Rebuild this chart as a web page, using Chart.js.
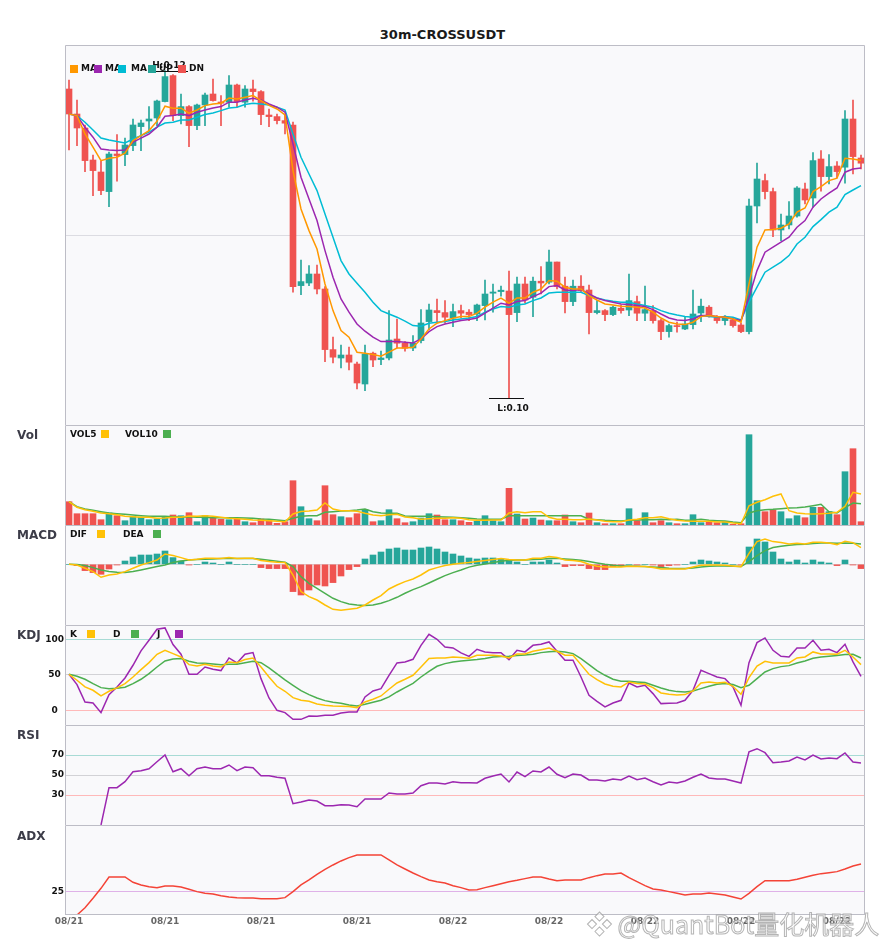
<!DOCTYPE html>
<html><head><meta charset="utf-8">
<script src="https://cdn.jsdelivr.net/npm/chart.js@4.4.1/dist/chart.umd.min.js"></script>
<style>
html,body{margin:0;padding:0;background:#fff;}
#wrap{position:relative;width:885px;height:950px;overflow:hidden;font-family:"DejaVu Sans",sans-serif;}
canvas{position:absolute;left:0;}
.t{position:absolute;white-space:nowrap;font-weight:bold;line-height:1;}
.lg{font-size:9px;color:#111;}
.pn{font-size:12px;color:#3c3c48;left:17px;}
.box{position:absolute;width:8px;height:8px;}
.wm{position:absolute;white-space:nowrap;font-family:"Noto Sans CJK SC","Noto Sans",sans-serif;font-size:25px;line-height:1;color:rgba(255,255,255,0.65);-webkit-text-stroke:1px rgba(150,150,150,0.7);}
</style></head><body><div id="wrap">
<div class="t" style="left:0;width:885px;text-align:center;top:28px;font-size:13px;color:#1a1a1a">30m-CROSSUSDT</div>
</div>
<script>
// ---------- data ----------
const dates = ['08/21','08/21','08/21','08/21','08/21','08/21','08/21','08/21','08/21','08/21',
'08/21','08/21','08/21','08/21','08/21','08/21','08/21','08/21','08/21','08/21',
'08/21','08/21','08/21','08/21','08/21','08/21','08/21','08/21','08/21','08/21',
'08/21','08/21','08/21','08/21','08/21','08/21','08/21','08/21','08/21','08/21',
'08/21','08/21','08/21','08/21','08/21','08/21','08/21','08/21','08/22','08/22',
'08/22','08/22','08/22','08/22','08/22','08/22','08/22','08/22','08/22','08/22',
'08/22','08/22','08/22','08/22','08/22','08/22','08/22','08/22','08/22','08/22',
'08/22','08/22','08/22','08/22','08/22','08/22','08/22','08/22','08/22','08/22',
'08/22','08/22','08/22','08/22','08/22','08/22','08/22','08/22','08/22','08/22',
'08/22','08/22','08/22','08/22','08/22','08/22','08/22','08/22','08/22','08/22'];
const tickEvery = 12;

const opens = [0.11945,0.11820,0.11750,0.11590,0.11530,0.11432,0.11620,0.11617,0.11662,0.11757,
0.11785,0.11800,0.11882,0.12012,0.11812,0.11857,0.11762,0.11865,0.11920,0.11880,
0.11879,0.11965,0.11879,0.11945,0.11932,0.11815,0.11807,0.11787,0.11765,0.10962,
0.10975,0.11020,0.10945,0.10642,0.10600,0.10615,0.10570,0.10470,0.10624,0.10592,
0.10600,0.10695,0.10674,0.10650,0.10687,0.10782,0.10837,0.10827,0.10800,0.10837,
0.10829,0.10820,0.10862,0.10924,0.10932,0.10935,0.10827,0.10970,0.10904,0.10984,
0.10979,0.11080,0.10959,0.10882,0.10959,0.10940,0.10827,0.10837,0.10817,0.10849,
0.10840,0.10882,0.10824,0.10837,0.10787,0.10732,0.10762,0.10745,0.10767,0.10825,
0.10854,0.10804,0.10787,0.10790,0.10765,0.10732,0.11360,0.11487,0.11432,0.11240,
0.11265,0.11310,0.11445,0.11400,0.11595,0.11507,0.11560,0.11554,0.11795,0.11600];
const highs = [0.11990,0.11890,0.11765,0.11615,0.11585,0.11630,0.11717,0.11700,0.11795,0.11790,
0.11857,0.11890,0.12037,0.12017,0.11920,0.11862,0.11870,0.11925,0.11995,0.11912,
0.12012,0.11970,0.11962,0.11990,0.11937,0.11845,0.11820,0.11815,0.11779,0.11090,
0.11062,0.11065,0.10957,0.10704,0.10665,0.10654,0.10579,0.10665,0.10629,0.10634,
0.10837,0.10795,0.10682,0.10712,0.10842,0.10870,0.10895,0.10887,0.10870,0.10865,
0.10842,0.10870,0.10990,0.10970,0.10959,0.11035,0.11004,0.11004,0.11004,0.11057,
0.11140,0.11080,0.11004,0.10990,0.11012,0.10965,0.10887,0.10842,0.10859,0.10865,
0.11020,0.10909,0.10959,0.10862,0.10795,0.10770,0.10779,0.10807,0.10940,0.10895,
0.10862,0.10812,0.10812,0.10800,0.10774,0.11395,0.11575,0.11520,0.11450,0.11320,
0.11382,0.11457,0.11475,0.11627,0.11637,0.11617,0.11582,0.11837,0.11890,0.11615];
const lows = [0.11640,0.11662,0.11532,0.11412,0.11417,0.11357,0.11484,0.11562,0.11637,0.11637,
0.11734,0.11762,0.11880,0.11787,0.11770,0.11657,0.11742,0.11762,0.11884,0.11762,
0.11854,0.11854,0.11854,0.11884,0.11767,0.11757,0.11770,0.11720,0.10929,0.10917,
0.10962,0.10920,0.10582,0.10575,0.10550,0.10540,0.10445,0.10437,0.10557,0.10567,
0.10590,0.10650,0.10634,0.10637,0.10675,0.10742,0.10779,0.10774,0.10757,0.10800,
0.10787,0.10787,0.10790,0.10829,0.10909,0.10400,0.10782,0.10874,0.10807,0.10920,
0.10970,0.10945,0.10825,0.10862,0.10929,0.10720,0.10820,0.10787,0.10812,0.10824,
0.10812,0.10787,0.10787,0.10774,0.10692,0.10704,0.10729,0.10742,0.10745,0.10782,
0.10804,0.10774,0.10765,0.10754,0.10727,0.10720,0.11275,0.11395,0.11207,0.11187,
0.11245,0.11304,0.11370,0.11354,0.11434,0.11470,0.11500,0.11474,0.11520,0.11545];
const closes = [0.11820,0.11750,0.11587,0.11537,0.11437,0.11620,0.11612,0.11665,0.11765,0.11775,
0.11795,0.11885,0.12007,0.11812,0.11857,0.11762,0.11865,0.11915,0.11887,0.11874,
0.11965,0.11882,0.11945,0.11932,0.11817,0.11807,0.11787,0.11774,0.10957,0.10982,
0.11020,0.10945,0.10642,0.10604,0.10615,0.10579,0.10475,0.10620,0.10590,0.10600,
0.10690,0.10674,0.10649,0.10674,0.10775,0.10840,0.10827,0.10804,0.10832,0.10824,
0.10817,0.10865,0.10920,0.10930,0.10939,0.10817,0.10970,0.10890,0.10984,0.10975,
0.11080,0.10957,0.10882,0.10959,0.10937,0.10827,0.10837,0.10817,0.10854,0.10837,
0.10887,0.10824,0.10842,0.10787,0.10732,0.10762,0.10757,0.10770,0.10820,0.10859,
0.10807,0.10787,0.10804,0.10762,0.10732,0.11360,0.11495,0.11432,0.11240,0.11265,
0.11310,0.11450,0.11390,0.11587,0.11507,0.11557,0.11532,0.11795,0.11607,0.11574];
const ma5 = [0.11820,0.11812,0.11720,0.11654,0.11587,0.11599,0.11604,0.11624,0.11687,0.11712,
0.11737,0.11784,0.11859,0.11849,0.11849,0.11824,0.11840,0.11862,0.11870,0.11874,
0.11900,0.11895,0.11904,0.11912,0.11887,0.11863,0.11845,0.11815,0.11537,0.11345,
0.11237,0.11145,0.10970,0.10837,0.10737,0.10704,0.10629,0.10624,0.10617,0.10609,
0.10629,0.10650,0.10650,0.10654,0.10695,0.10745,0.10774,0.10787,0.10799,0.10807,
0.10807,0.10824,0.10854,0.10879,0.10899,0.10874,0.10900,0.10900,0.10929,0.10945,
0.10987,0.10984,0.10954,0.10945,0.10945,0.10912,0.10890,0.10870,0.10865,0.10859,
0.10857,0.10854,0.10850,0.10829,0.10800,0.10779,0.10770,0.10767,0.10779,0.10807,
0.10812,0.10807,0.10804,0.10795,0.10779,0.10970,0.11154,0.11240,0.11242,0.11249,
0.11270,0.11329,0.11350,0.11432,0.11457,0.11487,0.11499,0.11599,0.11595,0.11587];
const ma10 = [0.11820,0.11812,0.11754,0.11704,0.11645,0.11640,0.11637,0.11640,0.11679,0.11699,
0.11720,0.11754,0.11809,0.11812,0.11820,0.11812,0.11829,0.11840,0.11850,0.11857,
0.11879,0.11879,0.11890,0.11899,0.11890,0.11870,0.11854,0.11829,0.11670,0.11504,
0.11395,0.11287,0.11137,0.11004,0.10895,0.10829,0.10770,0.10734,0.10704,0.10682,
0.10682,0.10682,0.10679,0.10675,0.10695,0.10732,0.10757,0.10770,0.10779,0.10787,
0.10792,0.10800,0.10824,0.10849,0.10874,0.10865,0.10882,0.10887,0.10907,0.10924,
0.10957,0.10962,0.10940,0.10937,0.10942,0.10920,0.10900,0.10887,0.10879,0.10870,
0.10867,0.10862,0.10857,0.10842,0.10820,0.10800,0.10790,0.10787,0.10795,0.10812,
0.10812,0.10807,0.10804,0.10795,0.10787,0.10904,0.11037,0.11129,0.11154,0.11179,
0.11204,0.11254,0.11287,0.11354,0.11395,0.11424,0.11450,0.11529,0.11545,0.11550];
const ma20 = [0.11820,0.11812,0.11779,0.11740,0.11700,0.11690,0.11682,0.11675,0.11695,0.11712,
0.11729,0.11754,0.11775,0.11779,0.11790,0.11790,0.11804,0.11817,0.11825,0.11837,
0.11850,0.11854,0.11867,0.11874,0.11870,0.11865,0.11854,0.11840,0.11720,0.11604,
0.11520,0.11437,0.11320,0.11204,0.11087,0.11020,0.10974,0.10929,0.10879,0.10837,
0.10820,0.10804,0.10784,0.10762,0.10759,0.10774,0.10779,0.10782,0.10790,0.10795,
0.10800,0.10807,0.10829,0.10845,0.10857,0.10854,0.10865,0.10870,0.10887,0.10900,
0.10925,0.10929,0.10929,0.10929,0.10929,0.10912,0.10900,0.10890,0.10884,0.10879,
0.10879,0.10870,0.10862,0.10854,0.10837,0.10824,0.10815,0.10807,0.10804,0.10812,
0.10807,0.10804,0.10807,0.10804,0.10790,0.10879,0.10954,0.11029,0.11054,0.11079,
0.11112,0.11170,0.11204,0.11257,0.11292,0.11329,0.11354,0.11417,0.11440,0.11462];

const volumes = [23300,11300,11300,11300,5300,12000,9300,4300,8300,7700,
5300,6000,8300,10000,9300,12300,3300,9300,6700,5700,
5300,5700,3300,2300,6000,4300,1700,3300,44300,18300,
6300,4300,39300,10300,8300,7300,11300,15300,3300,4300,
15300,6300,2300,3300,7000,11300,10000,5300,5300,4300,
2700,3700,9300,4300,3300,36700,11000,6000,7000,5000,
4300,4300,10000,3300,2300,12000,2300,1300,1300,1300,
16300,4300,12300,2300,4300,2300,1300,1300,10300,2300,
3700,2300,3300,700,1300,90300,24300,13300,15000,13300,
6300,9300,7300,17700,17700,13300,10300,53300,76300,3300];
const vol5 = [23300,17700,15300,13700,12000,11300,10300,8700,8300,7700,
7700,6700,7000,7700,7700,9000,8700,9300,8700,7700,
6700,6300,5700,5000,4700,4300,3700,3300,11000,13500,
14000,15000,22000,16000,14300,14300,13700,11700,10000,9300,
10300,10700,8000,7300,5700,6300,6700,6700,7300,6700,
5300,4700,4700,5000,5000,12000,13300,12300,13300,13300,
7700,5700,5700,5300,5300,6000,5000,3700,3300,3300,
5000,5700,7300,7300,8300,6300,4700,4000,3700,3700,
3700,3000,3000,2000,1300,19300,22700,25300,28700,31000,
14300,12000,11300,11000,11300,11700,12700,18700,32700,31000];
const vol10 = [23300,18300,16000,14700,13300,12000,11300,10700,10000,9300,
8700,8700,8700,8300,8000,8300,7700,7700,7300,7300,
7300,7300,7000,6700,6000,5700,5000,4300,6700,8700,
9300,9300,12700,13300,14000,14300,15000,16000,13300,12000,
11700,11700,9000,8700,8700,8700,8300,8000,7700,7300,
6700,6000,5700,5700,5700,9300,9300,9300,9300,9300,
9300,9300,9300,9300,9300,5700,5300,4700,4300,4000,
4700,5000,5300,5300,5700,5300,5700,4700,5000,5700,
4700,4300,4000,3000,2300,12000,14300,15300,15700,16300,
17000,17300,18000,19300,20700,13300,12000,17300,22000,21300];

// MACD values in units of 1e-5
const macdHist = [0,-1.3,-6.3,-8.3,-10,-4.7,-0.7,3.3,7.3,9.3,
9.3,10.3,13.3,6.7,3.3,-0.7,0,2.3,1.3,0,
2.3,0,0,0,-3.3,-4.3,-4.3,-4.3,-27.3,-30.7,
-25.7,-20.7,-21.7,-18.3,-11.7,-5.3,-2.3,5.3,9.3,12.3,
15.3,16.3,14.3,14.3,16.3,17.3,15.3,12.3,10.3,8.3,
6.3,5.3,6.3,6.3,5.3,4.3,2.3,0,2.3,2.3,
4.3,1.3,-2.3,-1.3,-1.3,-4.3,-5.3,-5.3,-2.3,-2,
0,-0.7,0,-0.7,-2.3,-1.3,-0.7,0,2.3,4.3,
3.3,2.3,1.3,0,-0.7,17.3,25.3,22.3,12.3,5.3,
2.3,4.3,1.3,4.3,2.3,1.3,-1.3,4.3,-0.7,-4.3];
const dif = [0,-0.7,-4,-7.3,-13,-10.7,-9.7,-7.3,-4,-0.7,
1.7,4.3,10.3,8.7,6.7,4.3,5,6,6,5.7,
6.7,5.7,6,6,3.7,2.7,2,1.7,-10.7,-27.3,
-32.3,-35.7,-40.7,-45,-46,-45,-44,-40.7,-35.7,-31.3,
-24.7,-20.7,-17.3,-14.7,-10.7,-5.7,-3.3,-1.3,0,1,
1.7,2.7,3.7,4.7,5.7,4.7,4.3,4.3,6,6,
7.7,6.7,4.3,3.7,2.7,0,-2,-2.7,-2.7,-2.7,
-2,-2.3,-2.3,-3.3,-4.7,-4.7,-4.7,-4.7,-2.7,-1,
-0.7,-0.7,-1,-1.7,-2.3,11,22.7,25.3,22.7,21.7,
20.3,21,20.3,22,22,21.3,19.7,23,21.7,16.7];
const dea = [0,-0.3,-1.3,-3.3,-5.7,-7.3,-8,-8.3,-7.3,-5.7,
-4,-2.3,-0.7,1.7,3.3,4.3,4.7,5,5.3,5.7,
5.7,5.7,5.7,5.7,5,4,3,2,-2.3,-12.3,
-19,-24,-29,-34,-37.3,-39.7,-40.7,-41.3,-40.7,-39,
-36.3,-33,-29,-25.3,-22.3,-18.7,-15,-11.3,-8.3,-5.7,
-2.8,-1,0.3,1.7,3,4,4.3,4.3,4.7,5,
5.7,6,5.3,4.7,4,2.7,1.3,0,-1,-1.7,
-1.7,-2,-2.3,-2.7,-3.3,-4,-4.3,-4.3,-3.7,-2.7,
-2,-1.7,-1.7,-2,-2.3,2.7,8.7,13.7,16.7,18,
19,19.7,20,20.7,21.3,21.3,21,21.3,21,20.3];

const kLine = [50.7,42.3,32.9,28.2,20.2,26.8,31.5,37.6,46.9,57.3,
67.1,78.9,84.5,79.8,75.1,64.3,62.4,64.8,62.4,61,
68.1,67.1,71.4,73.7,61,46.9,33.8,26.8,17.8,14.1,
12.7,8.9,7,6.1,5.6,5.2,3.8,11.7,15.5,20.2,
29.6,38.5,43.7,49.3,61,72.8,73.7,73.7,75.1,74.2,
73.2,77.5,77.5,77.5,76.5,73.7,79.3,79.3,83.1,85.4,
87.8,83.1,77.5,77.5,64.3,50.7,43.2,37.1,33.8,32.9,
39.9,37.6,37.1,31.9,24.4,22.5,21.6,22.1,27.2,38.5,
39.9,38.5,39.4,33.8,22.5,46,62.4,69,66.7,66.7,
66.7,73.7,75.1,82.2,79.3,79.3,78.9,84.5,75.1,64.3];
const dLine = [50.7,47.9,43.7,37.6,31.9,30.5,31,32.4,37.6,43.7,
51.6,61,69.5,72.3,72.8,69,66.7,66.2,65.3,64.3,
64.8,64.8,67.1,69,67.1,59.6,51.2,42.7,35.2,27.7,
22.1,17.4,13.6,11.3,9.9,7.5,6.1,8.5,11.3,14.1,
18.8,25.8,31.9,38,46.9,54.9,62,65.7,68.1,69.5,
70.4,71.4,72.8,75.1,75.6,76.1,77,77.9,78.9,81.2,
82.6,83.1,82.2,79.8,72.8,64.3,55.9,49.3,43.7,40.8,
40.8,39.9,39,35.2,31.5,28.2,26.3,25.8,27.2,30.5,
33.8,36.6,37.6,36.2,31.9,35.2,44.6,54,58.7,61.5,
62.9,66.7,69.5,73.2,75.1,76.1,77,78.4,78.9,73.7];
const jLine = [50.7,36.2,11.7,10.3,-3.3,22.1,32.9,45.5,63.4,83.6,
98.6,114.1,116,92.5,78.9,50.7,50.7,61,57.7,55.9,
73.7,66.7,78.9,81.2,44.6,17.4,0,-3.3,-12.7,-12.7,
-8,-8.5,-7,-7,-3.8,-2.3,-2.3,18.8,27.2,30.5,
49.3,66.7,68.1,71.8,91.5,107,100,89.2,87.8,80.8,
76,85.9,82.2,81.2,81.2,71.4,84.5,82.2,91.5,93,
96.2,83.1,70.4,70.4,46.9,21.1,12.7,4.7,10.3,14.1,
38.5,32.9,35.2,23.5,9.4,9.9,10.3,14.1,28.2,56.3,
51.6,46.9,44.6,32.9,7,67.1,95.3,101.9,84.5,76.1,
75.1,87.8,87.8,98.6,84.5,85.9,81.2,93,68.1,47.9];
const rsi = [null,null,null,null,0,37.3,37.3,43.3,53.3,54.3,
56.3,63.3,70,53.3,56.3,49.3,56.3,58,56.3,56.3,
60,54.3,58,57.3,49.3,49.3,47.7,46.7,21.3,23,
25,24,19.3,19.3,20.3,20,18.3,26,26,26,
32,31,31,32,39.3,42,42,41,43.3,42.3,
42.3,42,46.7,49,51,43,53,48.3,54,53,
58,50.7,47.3,51,50,45,45,44,46,45,
49,45.3,47,43.3,40,43,42,44,47.7,51,
47,46,46,44,42,73.3,76.3,72.3,62.3,63,
64,68,65,70,66,67,66.3,72,63,62];
const adx = [20.00,20.00,21.57,23.58,25.72,28.15,28.15,28.15,27.01,26.44,
26.08,25.87,26.22,26.22,26.01,25.51,25.01,24.65,24.51,24.15,
23.86,23.72,23.65,23.65,23.50,23.50,23.50,23.72,25.01,26.44,
27.51,28.73,29.80,30.73,31.59,32.30,32.88,32.88,32.88,32.88,
31.80,30.73,29.87,29.01,28.23,27.51,27.15,26.87,26.29,25.87,
25.36,25.44,25.87,26.29,26.72,27.15,27.44,27.80,28.15,28.15,
27.73,27.37,27.51,27.51,27.51,28.01,28.44,28.80,28.80,29.01,
28.01,27.15,26.29,25.58,25.36,25.01,24.65,24.29,24.51,24.51,
24.72,24.51,24.29,23.86,23.43,24.65,26.08,27.37,27.37,27.37,
27.37,27.65,28.08,28.51,28.87,29.08,29.30,29.87,30.51,30.94];

const kdjTicks = [0, 50, 100];
const rsiTicks = [30, 50, 70];
const adxTicks = [25];

// ---------- style ----------
const UP = '#26a69a', DN = '#ef5350';
const C_MA5 = '#ff9800', C_MA10 = '#9c27b0', C_MA20 = '#00bcd4';
const C_YEL = '#ffc107', C_GRN = '#4caf50', C_PUR = '#9c27b0', C_ADX = '#f44336';
const FONT = 'DejaVu Sans';
const candleColor = closes.map((c, i) => c >= opens[i] ? UP : DN);
const histColor = macdHist.map(v => v >= 0 ? UP : DN);

const wrap = document.getElementById('wrap');
function addText(txt, cls, left, top, extra) {
  const d = document.createElement('div');
  d.className = 't ' + cls; d.textContent = txt;
  d.style.left = left + 'px'; d.style.top = top + 'px';
  if (extra) Object.assign(d.style, extra);
  wrap.appendChild(d);
}
function addBox(color, left, top) {
  const d = document.createElement('div');
  d.className = 'box'; d.style.background = color;
  d.style.left = left + 'px'; d.style.top = top + 'px';
  wrap.appendChild(d);
}

function framePlugin(drawBottom) {
  return {
    id: 'frame',
    beforeDraw(c) {
      const { ctx, chartArea: a } = c;
      ctx.save(); ctx.fillStyle = '#f9f9fb';
      ctx.fillRect(a.left, a.top, a.right - a.left, a.bottom - a.top); ctx.restore();
    },
    afterDraw(c) {
      const { ctx, chartArea: a } = c;
      ctx.save(); ctx.strokeStyle = '#bdbdc6'; ctx.lineWidth = 1;
      ctx.beginPath();
      ctx.moveTo(a.left + 0.5, a.bottom); ctx.lineTo(a.left + 0.5, a.top + 0.5);
      ctx.lineTo(a.right - 0.5, a.top + 0.5); ctx.lineTo(a.right - 0.5, a.bottom);
      if (drawBottom) { ctx.moveTo(a.left, a.bottom - 0.5); ctx.lineTo(a.right, a.bottom - 0.5); }
      ctx.stroke(); ctx.restore();
    }
  };
}

function makePane(top, height, datasets, y, showX, plugins) {
  const cv = document.createElement('canvas');
  cv.width = 885; cv.height = height;
  cv.style.width = '885px'; cv.style.height = height + 'px'; cv.style.top = top + 'px';
  wrap.appendChild(cv);
  const yCfg = Object.assign({
    position: 'left',
    border: { display: false },
    afterFit: s => { s.width = 65; s.paddingTop = 0; s.paddingBottom = 0; }
  }, y);
  return new Chart(cv, {
    type: 'bar',
    data: { labels: dates, datasets },
    options: {
      responsive: false, animation: false, events: [],
      layout: { padding: { left: 0, right: 20, top: 0, bottom: 0 } },
      plugins: { legend: { display: false }, tooltip: { enabled: false } },
      elements: { point: { radius: 0, hoverRadius: 0 }, line: { borderWidth: 1.5, tension: 0 } },
      scales: {
        x: {
          type: 'category', offset: true, display: showX,
          grid: { display: false, drawTicks: false }, border: { display: false },
          ticks: { autoSkip: false, maxRotation: 0, padding: 1, color: '#666',
                   font: { family: FONT, size: 9, weight: 'bold' } },
          afterBuildTicks: s => { s.ticks = s.ticks.filter(t => t.value % tickEvery === 0); },
          afterFit: s => {
            if (s.options.display) { s.height = 15; } else { s.height = 0; }
            s.paddingLeft = 0; s.paddingRight = 0;
          }
        },
        y: yCfg
      }
    },
    plugins: [framePlugin(showX)].concat(plugins || [])
  });
}

function tickAxis(min, max, vals, colors) {
  return {
    min, max,
    afterBuildTicks: s => { s.ticks = vals.map(v => ({ value: v })); },
    grid: { drawTicks: false, lineWidth: 1, color: ctx => colors[ctx.tick.value] || '#d4d4d8' },
    ticks: { display: true, padding: 1, crossAlign: 'center', color: '#111',
             font: { family: FONT, size: 9, weight: 'bold' } }
  };
}
function plainAxis(min, max, gridVals, gridColor) {
  return {
    min, max,
    afterBuildTicks: s => { s.ticks = gridVals.map(v => ({ value: v })); },
    grid: { display: gridVals.length > 0, drawTicks: false, lineWidth: 1, color: gridColor },
    ticks: { display: false }
  };
}

// high / low markers
const hlPlugin = {
  id: 'hl',
  afterDatasetsDraw(c) {
    const { ctx, scales: { x, y } } = c;
    let hi = 0, lo = 0;
    highs.forEach((v, i) => { if (v > highs[hi]) hi = i; });
    lows.forEach((v, i) => { if (v < lows[lo]) lo = i; });
    ctx.save();
    ctx.strokeStyle = '#111'; ctx.fillStyle = '#111'; ctx.lineWidth = 1;
    ctx.font = 'bold 9px "' + FONT + '"'; ctx.textAlign = 'center'; ctx.textBaseline = 'alphabetic';
    const hx = x.getPixelForValue(hi), hy = Math.round(y.getPixelForValue(highs[hi])) + 0.5;
    ctx.beginPath(); ctx.moveTo(hx - 11, hy); ctx.lineTo(hx + 23, hy); ctx.stroke();
    ctx.fillText('H:' + highs[hi].toFixed(2), hx + 4, hy - 4);
    const lx = x.getPixelForValue(lo), ly = Math.round(y.getPixelForValue(lows[lo])) + 0.5;
    ctx.beginPath(); ctx.moveTo(lx - 20, ly); ctx.lineTo(lx + 15, ly); ctx.stroke();
    ctx.fillText('L:' + lows[lo].toFixed(2), lx + 4, ly + 12);
    ctx.restore();
  }
};

const line = (label, data, color) => ({ type: 'line', label, data, borderColor: color, borderWidth: 1.5, order: 0, pointRadius: 0, spanGaps: false });

// ---------- panes ----------
makePane(45, 380, [
  line('MA5', ma5, C_MA5), line('MA10', ma10, C_MA10), line('MA20', ma20, C_MA20),
  { type: 'bar', label: 'wick', data: lows.map((l, i) => [l, highs[i]]), backgroundColor: candleColor,
    barThickness: 1, grouped: false, order: 2 },
  { type: 'bar', label: 'body', data: opens.map((o, i) => [o, closes[i]]), backgroundColor: candleColor,
    barThickness: 6, grouped: false, minBarLength: 1, order: 1 }
], plainAxis(0.10265, 0.12165, [0.11215], '#dcdce2'), false, [hlPlugin]);

makePane(425, 100, [
  line('VOL5', vol5, C_YEL), line('VOL10', vol10, C_GRN),
  { type: 'bar', label: 'VOL', data: volumes, backgroundColor: candleColor, barThickness: 6, grouped: false, order: 1 }
], plainAxis(0, 100000, [], '#ddd'), false);

makePane(525, 100, [
  line('DIF', dif, C_YEL), line('DEA', dea, C_GRN),
  { type: 'bar', label: 'MACD', data: macdHist, backgroundColor: histColor, barThickness: 6, grouped: false, order: 1 }
], plainAxis(-60.7, 39.3, [0], '#d8d8dc'), false);

makePane(625, 100, [
  line('K', kLine, C_YEL), line('D', dLine, C_GRN), line('J', jLine, C_PUR)
], tickAxis(-20.7, 120.1, kdjTicks, { 100: '#a8dbd5', 50: '#d2d2d6', 0: '#ffb9b9' }), false);

makePane(725, 100, [
  line('RSI', rsi, C_PUR)
], tickAxis(0, 100, rsiTicks, { 70: '#a8dbd5', 50: '#d2d2d6', 30: '#ffb9b9' }), false);

makePane(825, 105, [
  line('ADX', adx, C_ADX)
], tickAxis(20, 39.3, adxTicks, { 25: '#dfb2e8' }), true);

// ---------- legends & labels ----------
addText('Vol', 'pn', 17, 429);
addText('MACD', 'pn', 17, 529);
addText('KDJ', 'pn', 17, 628.5);
addText('RSI', 'pn', 17, 729);
addText('ADX', 'pn', 17, 829.5);

addText('MA', 'lg', 81, 64.2);
addText('MA', 'lg', 105, 64.2);
addText('MA', 'lg', 131, 64.2);
addText('UP', 'lg', 159, 64.2);
addText('DN', 'lg', 189, 64.2);
addBox(C_MA5, 70, 65); addBox(C_MA10, 94, 65); addBox(C_MA20, 118, 65);
addBox(UP, 148, 65); addBox(DN, 178, 65);

addText('VOL5', 'lg', 70, 429.7); addBox(C_YEL, 101, 430);
addText('VOL10', 'lg', 125, 429.7); addBox(C_GRN, 163, 430);
addText('DIF', 'lg', 70, 529.7); addBox(C_YEL, 97, 530);
addText('DEA', 'lg', 123, 529.7); addBox(C_GRN, 153, 530);
addText('K', 'lg', 70, 629.7); addBox(C_YEL, 87, 630);
addText('D', 'lg', 113, 629.7); addBox(C_GRN, 131, 630);
addText('J', 'lg', 157, 629.7); addBox(C_PUR, 175, 630);

const wm = document.createElement('div');
wm.className = 'wm'; wm.textContent = '❖ @QuantBot量化机器人';
wm.style.left = '587px'; wm.style.top = '911px';
wrap.appendChild(wm);
</script>
</body></html>
